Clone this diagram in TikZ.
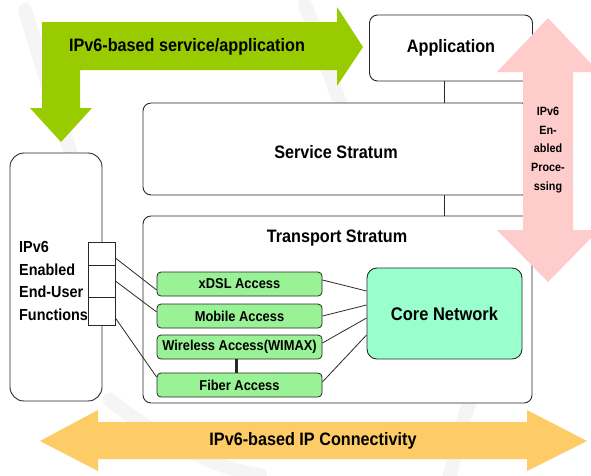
\documentclass[tikz,border=0pt]{standalone}
\usepackage{fontspec}
\setmainfont{Liberation Sans}[FakeStretch=0.9]
\definecolor{arrgreen}{RGB}{153,204,0}
\definecolor{accgreen}{RGB}{153,242,150}
\definecolor{coregreen}{RGB}{153,255,204}
\definecolor{pinkarr}{RGB}{255,204,204}
\definecolor{orangearr}{RGB}{253,204,102}
\definecolor{edge}{RGB}{40,40,40}
\tikzset{
  bigbox/.style={draw=edge, line width=0.9pt, rounded corners=8pt, fill=white, inner sep=0pt},
  portbox/.style={draw=edge, line width=0.8pt, fill=white, minimum width=27pt, inner sep=0pt},
  accbox/.style={draw=edge, line width=0.8pt, fill=accgreen, rounded corners=4pt,
    minimum width=165pt, minimum height=24pt, inner sep=0pt,
    font=\bfseries\fontsize{14.3}{16}\selectfont},
  link/.style={draw=edge, line width=0.8pt},
  lbl/.style={font=\bfseries\fontsize{18}{22}\selectfont, inner sep=0pt}
}
\begin{document}
\begin{tikzpicture}[x=1pt,y=-1pt]
\useasboundingbox (0,0) rectangle (591,475);
\fill[white] (0,0) rectangle (591,475);

% faint watermark strokes
\begin{scope}[line width=14pt, draw=black!4, line cap=round]
  \draw (25,10) .. controls (40,60) and (55,110) .. (70,150);
  \draw (305,5) .. controls (320,40) and (330,80) .. (345,115);
  \draw (110,400) .. controls (160,440) and (220,470) .. (260,475);
  \draw (470,400) .. controls (460,430) and (455,455) .. (450,475);
\end{scope}

% boxes
\node[bigbox, minimum width=163pt, minimum height=66pt] (app) at (451,48) {};
\node[lbl] (applbl) at (app.center) {Application};
\node[bigbox, minimum width=387pt, minimum height=92pt] (svc) at (336.5,149) {};
\node[lbl] (svclbl) at (336,152) {Service Stratum};
\node[bigbox, minimum width=389pt, minimum height=187pt] (trans) at (337.5,309.5) {};
\node[lbl] (translbl) at (337,238) {Transport Stratum};
\node[bigbox, rounded corners=14pt, minimum width=92pt, minimum height=248pt] (eu) at (56,277) {};
\node[anchor=west, align=left, inner sep=0pt, font=\bfseries\fontsize{16}{22.5}\selectfont] (eulbl) at (19,281)
  {IPv6\\Enabled\\End-User\\Functions};

% connector lines between strata
\draw[link] ([xshift=-6.5pt]app.south) -- ([xshift=-6.5pt]app.south |- svc.north);
\draw[link] ([xshift=-6.5pt]app.south |- svc.south) -- ([xshift=-6.5pt]app.south |- trans.north);

% ports
\node[portbox, minimum height=23pt] (p1) at (101.5,253.5) {};
\node[portbox, minimum height=32pt] (p2) at (101.5,281) {};
\node[portbox, minimum height=28pt] (p3) at (101.5,311) {};

% access boxes
\node[accbox] (xdsl) at (239.5,284) {xDSL Access};
\node[accbox] (mob) at (239.5,316) {Mobile Access};
\node[accbox] (wl) at (239.5,347) {Wireless Access(WIMAX)};
\node[accbox] (fib) at (239.5,385) {Fiber Access};
\draw[draw=edge, line width=3pt] ([xshift=-3.5pt]wl.south) -- ([xshift=-3.5pt]fib.north);

% core
\node[draw=edge, line width=0.9pt, fill=coregreen, rounded corners=10pt, minimum width=155pt,
  minimum height=91pt, inner sep=0pt, font=\bfseries\fontsize{18.3}{22}\selectfont] (core) at (444.5,313.5) {Core Network};

% links port -> access
\draw[link] ([yshift=-4.5pt]p1.east) -- ([yshift=-6pt]xdsl.west);
\draw[link] (p2.east) -- ([yshift=4pt]mob.west);
\draw[link] ([yshift=-7pt]p3.east) -- ([yshift=8pt]fib.west);
% links access -> core
\draw[link] ([yshift=4pt]xdsl.east) -- ([yshift=22.5pt]core.west);
\draw[link] (mob.east) -- ([yshift=8.5pt]core.west);
\draw[link] ([yshift=4pt]wl.east) -- ([yshift=-4.5pt]core.west);
\draw[link] ([yshift=3pt]fib.east) -- ([yshift=-21.5pt]core.west);

% pink double arrow
\fill[pinkarr] (548,18) -- (599,72) -- (573,72) -- (573,230) -- (599,230) -- (548,282)
  -- (497,230) -- (523,230) -- (523,72) -- (497,72) -- cycle;
\node[align=center, inner sep=0pt, font=\bfseries\fontsize{12}{18.8}\selectfont] (pinklbl) at (548,150)
  {IPv6\\En-\\abled\\Proce-\\ssing};

% green L arrow
\fill[arrgreen] (42,108) -- (42,22) -- (337,22) -- (337,7) -- (363,47) -- (337,86) -- (337,70)
  -- (80,70) -- (80,108) -- (92,108) -- (61,142) -- (30,108) -- cycle;
\node[lbl] (greenlbl) at (187,47) {IPv6-based service/application};

% orange double arrow
\fill[orangearr] (40,441) -- (98,410) -- (98,422) -- (527,422) -- (527,410) -- (587,441)
  -- (527,471) -- (527,459) -- (98,459) -- (98,471) -- cycle;
\node[lbl] (orangelbl) at (313,441) {IPv6-based IP Connectivity};
\end{tikzpicture}
\end{document}
